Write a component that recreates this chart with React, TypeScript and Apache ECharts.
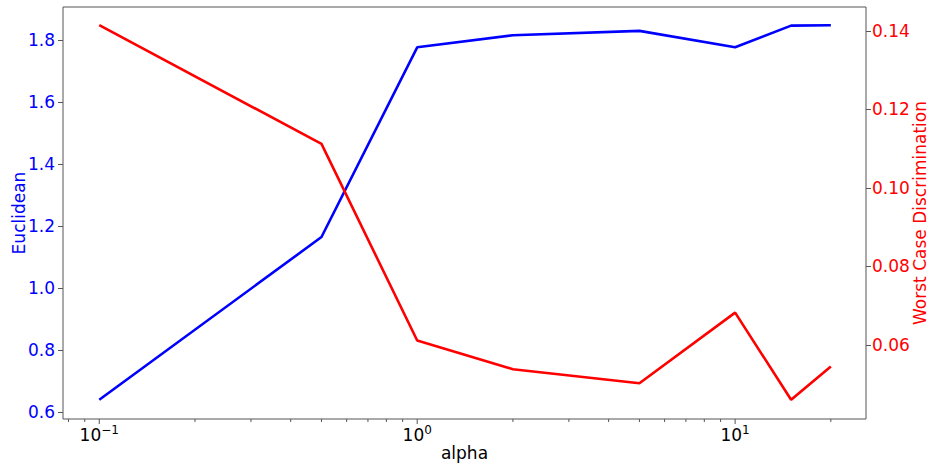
import React, { useEffect, useRef } from "react";
import * as echarts from "echarts";

const alphas = [0.1, 0.5, 1, 2, 5, 10, 15, 20];
const euclidean = [0.639, 1.164, 1.776, 1.815, 1.829, 1.776, 1.846, 1.847];
const worstCase = [0.1415, 0.1112, 0.0611, 0.0538, 0.0502, 0.0682, 0.046, 0.0545];
const majorTicks = [0.1, 1, 10];
const minorTicks = [0.08, 0.09, 0.2, 0.3, 0.4, 0.5, 0.6, 0.7, 0.8, 0.9, 2, 3, 4, 5, 6, 7, 8, 9, 20];

const FONT = "DejaVu Sans";
const SPINE = "#555555";

export default function App() {
  const ref = useRef<HTMLDivElement>(null);
  useEffect(() => {
    document.body.style.margin = "0";
    document.body.style.overflow = "hidden";
    if (!ref.current) return;
    const chart = echarts.init(ref.current, null, { renderer: "svg" });
    const tickData = [
      ...majorTicks.map((v) => [v, 1, 5]),
      ...minorTicks.map((v) => [v, 1, 3]),
    ];
    chart.setOption({
      animation: false,
      backgroundColor: "#ffffff",
      grid: {
        left: 63,
        right: 65,
        top: 7,
        bottom: 44,
        containLabel: false,
        outerBoundsMode: "none",
        show: true,
        borderColor: SPINE,
        borderWidth: 1,
        backgroundColor: "transparent",
      },
      xAxis: {
        type: "log",
        logBase: 10,
        min: 0.0769,
        max: 25.8,
        name: "alpha",
        nameLocation: "middle",
        nameGap: 25,
        nameMoveOverlap: false,
        nameTextStyle: { fontFamily: FONT, fontSize: 17, color: "#000" },
        axisLine: { show: false },
        axisTick: { show: false },
        splitLine: { show: false },
        axisLabel: {
          showMinLabel: false,
          showMaxLabel: false,
          margin: 5,
          formatter: (v: number) => {
            const e = Math.log10(v);
            const r = Math.round(e);
            if (Math.abs(e - r) > 1e-6) return "";
            const s = r < 0 ? "\u2212" + Math.abs(r) : String(r);
            return "{a|10}{b|" + s + "}";
          },
          rich: {
            a: { fontFamily: FONT, fontSize: 17, color: "#000" },
            b: { fontFamily: FONT, fontSize: 12, color: "#000", padding: [0, 0, 9, 0] },
          },
        },
      },
      yAxis: [
        {
          type: "value",
          position: "left",
          min: 0.577,
          max: 1.906,
          minInterval: 0.2,
          maxInterval: 0.2,
          name: "Euclidean",
          nameLocation: "middle",
          nameGap: 36,
          nameMoveOverlap: false,
          nameRotate: 90,
          nameTextStyle: { fontFamily: FONT, fontSize: 17, color: "#0000ff" },
          axisLine: { show: false },
          axisTick: { show: true, length: 5, lineStyle: { color: SPINE } },
          splitLine: { show: false },
          axisLabel: {
            showMinLabel: false,
            showMaxLabel: false,
            margin: 8,
            fontFamily: FONT,
            fontSize: 17,
            color: "#0000ff",
            formatter: (v: number) => v.toFixed(1),
          },
        },
        {
          type: "value",
          position: "right",
          min: 0.0411,
          max: 0.1461,
          minInterval: 0.02,
          maxInterval: 0.02,
          name: "Worst Case Discrimination",
          nameLocation: "middle",
          nameGap: 45,
          nameMoveOverlap: false,
          nameRotate: 90,
          nameTextStyle: { fontFamily: FONT, fontSize: 17, color: "#ff0000" },
          axisLine: { show: false },
          axisTick: { show: true, length: 5, lineStyle: { color: SPINE } },
          splitLine: { show: false },
          axisLabel: {
            showMinLabel: false,
            showMaxLabel: false,
            margin: 6,
            fontFamily: FONT,
            fontSize: 17,
            color: "#ff0000",
            formatter: (v: number) => v.toFixed(2),
          },
        },
      ],
      series: [
        {
          type: "line",
          name: "Euclidean",
          yAxisIndex: 0,
          data: alphas.map((a, i) => [a, euclidean[i]]),
          showSymbol: false,
          lineStyle: { color: "#0000ff", width: 2.6 },
          itemStyle: { color: "#0000ff" },
        },
        {
          type: "line",
          name: "Worst Case Discrimination",
          yAxisIndex: 1,
          data: alphas.map((a, i) => [a, worstCase[i]]),
          showSymbol: false,
          lineStyle: { color: "#ff0000", width: 2.6 },
          itemStyle: { color: "#ff0000" },
        },
        {
          type: "custom",
          yAxisIndex: 0,
          silent: true,
          clip: false,
          data: tickData,
          renderItem: (params: any, api: any) => {
            const cs = params.coordSys;
            const bottom = cs.y + cs.height;
            const px = api.coord([api.value(0), 1])[0];
            const len = api.value(2);
            return {
              type: "line",
              shape: { x1: px, y1: bottom, x2: px, y2: bottom + len },
              style: { stroke: SPINE, lineWidth: 1 },
            };
          },
        },
      ],
    });
    return () => chart.dispose();
  }, []);
  return <div ref={ref} style={{ width: 931, height: 463 }} />;
}
